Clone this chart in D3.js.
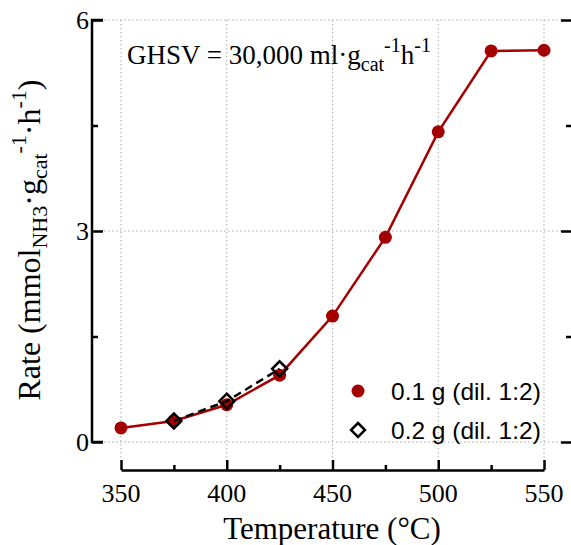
<!DOCTYPE html>
<html><head><meta charset="utf-8">
<script src="https://cdn.jsdelivr.net/npm/d3@7"></script>
<style>body{margin:0;background:#fff}svg{display:block}</style>
</head><body><svg id="c" width="571" height="545"></svg>
<script>
const temps = [350, 375, 400, 425, 450, 475, 500, 525, 550];
const rate01 = [0.20, 0.30, 0.53, 0.95, 1.79, 2.91, 4.41, 5.56, 5.57];
const temps02 = [375, 400, 425];
const rate02 = [0.30, 0.58, 1.04];
const xTicks = [350, 400, 450, 500, 550];
const xMinor = [375, 425, 475, 525];
const yTicks = [0, 3, 6];
const yMinor = [1.5, 4.5];
const legendLabels = ["0.1 g (dil. 1:2)", "0.2 g (dil. 1:2)"];

const svg = d3.select("#c");
const red = "#a50000";
const x = d3.scaleLinear().domain([350, 550]).range([121, 544]);
const y = d3.scaleLinear().domain([0, 6]).range([442, 20]);
const xL = 92, xR = 571, xAxisY = 470;
const times = "'Liberation Serif','Times New Roman',serif";
const sans = "'Liberation Sans',Arial,sans-serif";

// grid
const g = svg.append("g");
g.selectAll("line.vg").data(xTicks).join("line")
  .attr("x1", d => x(d)).attr("x2", d => x(d)).attr("y1", y(6)).attr("y2", xAxisY - 10)
  .attr("stroke", "#aaa").attr("stroke-width", 1).attr("stroke-dasharray", "1.5,2.5");
g.selectAll("line.hg").data(yTicks).join("line")
  .attr("x1", xL).attr("x2", 561).attr("y1", d => y(d)).attr("y2", d => y(d))
  .attr("stroke", "#aaa").attr("stroke-width", 1).attr("stroke-dasharray", "1.5,2.5");

// left y axis
const yAxis = d3.axisRight(y).tickValues(yTicks).tickSize(11).tickFormat("");
const ya = svg.append("g").attr("transform", `translate(${xL},0)`).call(yAxis);
ya.select(".domain").attr("d", `M11,${y(6)}H0V${y(0)}H11`).attr("stroke-width", 2.5);
ya.selectAll(".tick line").attr("stroke-width", 2.5);
const yMin = d3.axisRight(y).tickValues(yMinor).tickSize(6).tickFormat("");
const ym = svg.append("g").attr("transform", `translate(${xL},0)`).call(yMin);
ym.select(".domain").remove();
ym.selectAll(".tick line").attr("stroke-width", 2.5);
svg.selectAll("text.yl").data(yTicks).join("text")
  .attr("x", xL - 3).attr("y", d => y(d)).attr("dy", "0.35em")
  .attr("text-anchor", "end").attr("font-family", times).attr("font-size", 26).text(d => d);

// right ticks
const yR = d3.axisLeft(y).tickValues(yTicks).tickSize(10).tickFormat("");
const yr = svg.append("g").attr("transform", `translate(${xR},0)`).call(yR);
yr.select(".domain").remove();
yr.selectAll(".tick line").attr("stroke-width", 2.5);
const yRm = d3.axisLeft(y).tickValues(yMinor).tickSize(5).tickFormat("");
const yrm = svg.append("g").attr("transform", `translate(${xR},0)`).call(yRm);
yrm.select(".domain").remove();
yrm.selectAll(".tick line").attr("stroke-width", 2.5);

// x axis
const xAxis = d3.axisTop(x).tickValues(xTicks).tickSize(10).tickSizeOuter(0).tickFormat("");
const xa = svg.append("g").attr("transform", `translate(0,${xAxisY})`).call(xAxis);
xa.select(".domain").attr("stroke-width", 2.5);
xa.selectAll(".tick line").attr("stroke-width", 2.5);
const xMin = d3.axisTop(x).tickValues(xMinor).tickSize(5).tickFormat("");
const xm = svg.append("g").attr("transform", `translate(0,${xAxisY})`).call(xMin);
xm.select(".domain").remove();
xm.selectAll(".tick line").attr("stroke-width", 2.5);
svg.selectAll("text.xl").data(xTicks).join("text")
  .attr("x", d => x(d)).attr("y", 502)
  .attr("text-anchor", "middle").attr("font-family", times).attr("font-size", 26).text(d => d);

// axis titles
svg.append("text").attr("x", 332).attr("y", 539).attr("text-anchor", "middle")
  .attr("font-family", times).attr("font-size", 31).text("Temperature (°C)");

const yt = svg.append("text").attr("transform", "translate(40,240) rotate(-90)")
  .attr("text-anchor", "middle").attr("font-family", times).attr("font-size", 32);
yt.append("tspan").text("Rate (mmol");
yt.append("tspan").attr("font-size", 22).attr("dy", 7).text("NH3");
yt.append("tspan").attr("dy", -7).text("·g");
yt.append("tspan").attr("font-size", 22).attr("dy", 7).text("cat");
yt.append("tspan").attr("font-size", 22).attr("dy", -21).text("-1");
yt.append("tspan").attr("dy", 14).text("·h");
yt.append("tspan").attr("font-size", 22).attr("dy", -14).text("-1");
yt.append("tspan").attr("dy", 14).text(")");

// GHSV annotation
const gh = svg.append("text").attr("x", 127).attr("y", 64)
  .attr("font-family", times).attr("font-size", 27);
gh.append("tspan").text("GHSV = 30,000 ml·g");
gh.append("tspan").attr("font-size", 20).attr("dy", 7).text("cat");
gh.append("tspan").attr("font-size", 20).attr("dy", -19).text("-1");
gh.append("tspan").attr("dy", 12).text("h");
gh.append("tspan").attr("font-size", 20).attr("dy", -12).text("-1");

// series 1
const line = d3.line().x(d => x(d[0])).y(d => y(d[1]));
const s1 = temps.map((t, i) => [t, rate01[i]]);
svg.append("path").datum(s1).attr("d", line).attr("fill", "none")
  .attr("stroke", red).attr("stroke-width", 2.5);
svg.selectAll("circle.p").data(s1).join("circle")
  .attr("cx", d => x(d[0])).attr("cy", d => y(d[1])).attr("r", 6.5).attr("fill", red);

// series 2
const s2 = temps02.map((t, i) => [t, rate02[i]]);
svg.append("path").datum(s2).attr("d", line).attr("fill", "none")
  .attr("stroke", "#000").attr("stroke-width", 2.5).attr("stroke-dasharray", "8,5");
const dia = (cx, cy, r) => `M${cx},${cy - r}L${cx + r},${cy}L${cx},${cy + r}L${cx - r},${cy}Z`;
svg.selectAll("path.d").data(s2).join("path")
  .attr("d", d => dia(x(d[0]), y(d[1]), 7.5)).attr("fill", "none")
  .attr("stroke", "#000").attr("stroke-width", 2.5);

// legend
svg.append("circle").attr("cx", 358).attr("cy", 391).attr("r", 6.5).attr("fill", red);
svg.append("path").attr("d", dia(358, 430, 7)).attr("fill", "none")
  .attr("stroke", "#000").attr("stroke-width", 2.5);
svg.selectAll("text.lg").data(legendLabels).join("text")
  .attr("x", 391).attr("y", (d, i) => 391 + i * 39).attr("dy", "0.35em")
  .attr("font-family", sans).attr("font-size", 24.5).text(d => d);
</script></body></html>
